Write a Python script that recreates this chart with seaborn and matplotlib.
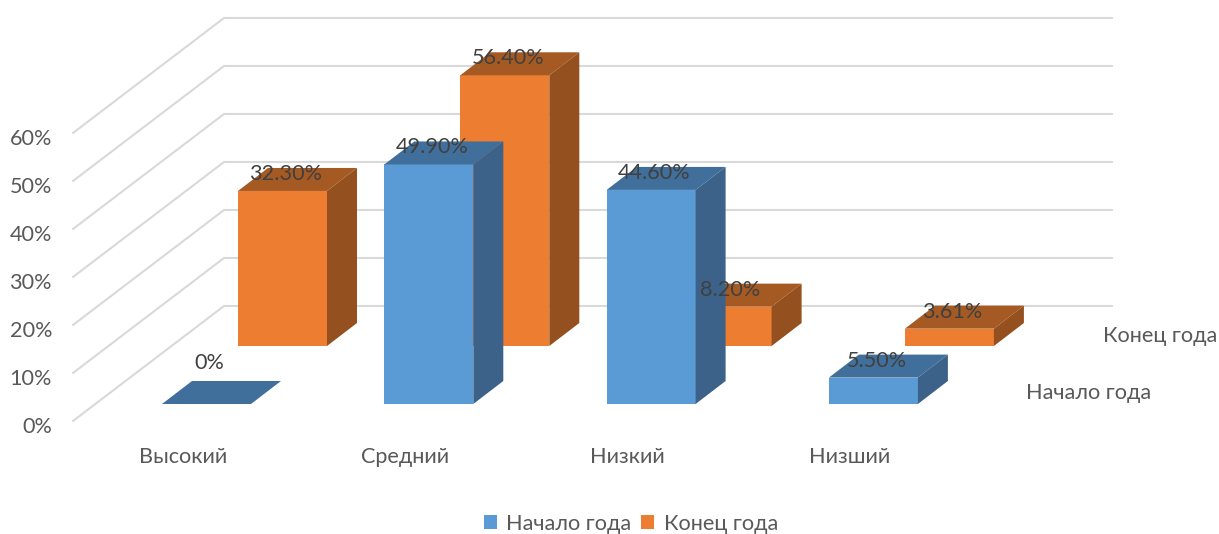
import matplotlib
matplotlib.use('Agg')
import matplotlib.pyplot as plt
import numpy as np
import pandas as pd
import seaborn as sns

categories = ['Высокий', 'Средний', 'Низкий', 'Низший']
start_values = [0, 49.9, 44.6, 5.5]
end_values = [32.3, 56.4, 8.2, 3.61]
start_labels = ['0%', '49.90%', '44.60%', '5.50%']
end_labels = ['32.30%', '56.40%', '8.20%', '3.61%']
start_name = 'Начало года'
end_name = 'Конец года'
y_ticks = [0, 10, 20, 30, 40, 50, 60]

W, H = 1219, 534
CAT_STEP = 222.3   # пикселей на категорию
PCT = 4.8          # пикселей на процент
BAR_W = 89
DEPTH_X, DEPTH_Y = 30, 23  # глубина столбика
WALL_X, WALL_Y = 151, 115  # глубина боковой стенки
FS = 15.6

sns.set_theme(style='white')
plt.rcParams['font.family'] = ['Lato', 'DejaVu Sans']
TICK = '#595959'
LABEL = '#404040'

fig = plt.figure(figsize=(W / 100, H / 100), dpi=100)


def layer(x0, y0):
    # прозрачные оси на всю картинку, начало (кат. 0, 0%) в пикселе x0, y0
    ax = fig.add_axes([0, 0, 1, 1])
    ax.patch.set_alpha(0)
    return ax, (-x0 / CAT_STEP, (W - x0) / CAT_STEP), ((y0 - H) / PCT, y0 / PCT)


def draw_bars(ax, values, color, side, top):
    df = pd.DataFrame({'cat': categories, 'val': values})
    sns.barplot(data=df, x='cat', y='val', ax=ax, color=color, saturation=1,
                width=BAR_W / CAT_STEP, linewidth=0)
    dx = DEPTH_X / CAT_STEP
    dy = DEPTH_Y / PCT
    for bar in ax.containers[0]:
        x = bar.get_x()
        w = bar.get_width()
        h = bar.get_height()
        ax.fill([x, x + w, x + w + dx, x + dx], [h, h, h + dy, h + dy],
                color=top, lw=0, zorder=3)
        if h > 0:
            ax.fill([x + w, x + w + dx, x + w + dx, x + w], [0, dy, h + dy, h],
                    color=side, lw=0, zorder=3)
    return ax.containers[0][0]


# стенка с сеткой
wall, wall_xlim, wall_ylim = layer(224, 306)
for v in y_ticks:
    wall.plot([0, 4], [v, v], color='#d9d9d9', lw=1.5, solid_capstyle='butt')
    wall.plot([0, -WALL_X / CAT_STEP], [v, v - WALL_Y / PCT], color='#d9d9d9', lw=1.5)
    wall.annotate(f'{v}%', xy=(-WALL_X / CAT_STEP, v - WALL_Y / PCT), xytext=(-21, -6),
                  textcoords='offset pixels', ha='right', va='center',
                  fontsize=FS, color=TICK, annotation_clip=False)
wall.set_xlim(wall_xlim)
wall.set_ylim(wall_ylim)
wall.axis('off')

# дальний ряд
back, back_xlim, back_ylim = layer(282.5, 346)
end_handle = draw_bars(back, end_values, '#ed7d31', '#94501f', '#a65a23')
back.set_xlim(back_xlim)
back.set_ylim(back_ylim)
back.axis('off')

# ближний ряд
front, front_xlim, front_ylim = layer(206.5, 404)
start_handle = draw_bars(front, start_values, '#5b9bd5', '#3c6289', '#416f9b')
front.set_xlim(front_xlim)
front.set_ylim(front_ylim)
front.axis('off')

for i, name in enumerate(categories):
    front.text(i - 0.105, -11.0, name, ha='center', va='center', fontsize=FS,
               color=TICK, clip_on=False)

# подписи значений поверх всех столбиков
for ax, values, labels in [(back, end_values, end_labels), (front, start_values, start_labels)]:
    for i, (v, s) in enumerate(zip(values, labels)):
        front.annotate(s, xy=(i, v), xycoords=ax.transData,
                       xytext=(3, 41 if v == 0 else 17), textcoords='offset pixels',
                       ha='center', va='center', fontsize=FS, color=LABEL,
                       annotation_clip=False, zorder=6)

# подписи оси рядов
front.text(3.97, 2.2, start_name, ha='center', va='center', fontsize=FS, color=TICK, clip_on=False)
back.text(3.947, 2.1, end_name, ha='center', va='center', fontsize=FS, color=TICK, clip_on=False)

fig.legend([start_handle, end_handle], [start_name, end_name], ncol=2, loc='center',
           bbox_to_anchor=(631 / W, 1 - 524 / H), frameon=False, fontsize=FS, labelcolor=TICK,
           handlelength=0.6, handleheight=0.6, handletextpad=0.45, columnspacing=0.45)

fig.savefig('out.png', dpi=100)
